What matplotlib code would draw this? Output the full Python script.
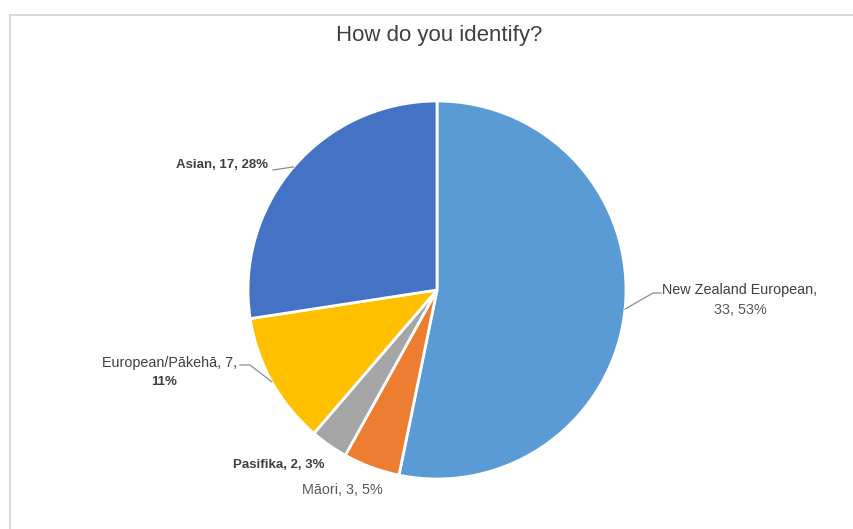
import numpy as np
import matplotlib.pyplot as plt
from matplotlib.patches import Rectangle

plt.rcParams['font.family'] = ['Liberation Sans', 'DejaVu Sans']

# --- Data ---
categories = ['New Zealand European', 'Māori', 'Pasifika', 'European/Pākehā', 'Asian']
counts = [33, 3, 2, 7, 17]
pct_labels = ['53%', '5%', '3%', '11%', '28%']
colors = ['#5B9BD5', '#ED7D31', '#A5A5A5', '#FFC000', '#4472C4']

W, H = 854, 529
fig = plt.figure(figsize=(W / 100, H / 100), dpi=100)
ax = fig.add_axes([0, 0, 1, 1])

# pie in pixel-like coordinates (y up)
cx, cy, r = 437, H - 290, 189
wedges, _ = ax.pie(counts, colors=colors, startangle=90, counterclock=False,
                   center=(cx, cy), radius=r,
                   wedgeprops=dict(edgecolor='white', linewidth=2))
ax.set_xlim(0, W)
ax.set_ylim(0, H)
ax.set_aspect('equal')
ax.axis('off')

# chart border
ax.add_patch(Rectangle((10, -5), W, H - 10, fill=False, edgecolor='#D9D9D9', lw=1.5))

ax.text(cx + 2, H - 35, 'How do you identify?', ha='center', va='center',
        fontsize=16, color='#404040')

def edge_point(w):
    a = np.deg2rad((w.theta1 + w.theta2) / 2)
    return cx + r * np.cos(a), cy + r * np.sin(a)

txt = '#404040'
lc = '#8C8C8C'
fs = 10.4
fsb = 9.5

# New Zealand European
px, py = edge_point(wedges[0])
ax.text(740, H - 290, f'{categories[0]},', ha='center', va='center', fontsize=fs, color=txt)
ax.text(740, H - 310, f'{counts[0]}, {pct_labels[0]}', ha='center', va='center', fontsize=fs, color='#595959')
ax.plot([px, 653, 661], [py, H - 293, H - 293], color=lc, lw=0.9)

# Māori
ax.text(342, H - 490, f'{categories[1]}, {counts[1]}, {pct_labels[1]}', ha='center', va='center',
        fontsize=fs, color='#595959')

# Pasifika
ax.text(279, H - 465, f'{categories[2]}, {counts[2]}, {pct_labels[2]}', ha='center', va='center',
        fontsize=fsb, color=txt, fontweight='bold')

# European/Pākehā
px, py = edge_point(wedges[3])
ax.text(170, H - 363, f'{categories[3]}, {counts[3]},', ha='center', va='center', fontsize=fs, color=txt)
ax.text(164, H - 382, pct_labels[3], ha='center', va='center', fontsize=fsb, color=txt, fontweight='bold')
ax.plot([240, 250, px], [H - 365, H - 365, py], color=lc, lw=0.9)

# Asian
px, py = edge_point(wedges[4])
ax.text(268, H - 165, f'{categories[4]}, {counts[4]}, {pct_labels[4]}', ha='right', va='center',
        fontsize=fsb, color=txt, fontweight='bold')
ax.plot([273, px], [H - 170, py], color=lc, lw=0.9)

fig.savefig('out.png', dpi=100, facecolor='white')
